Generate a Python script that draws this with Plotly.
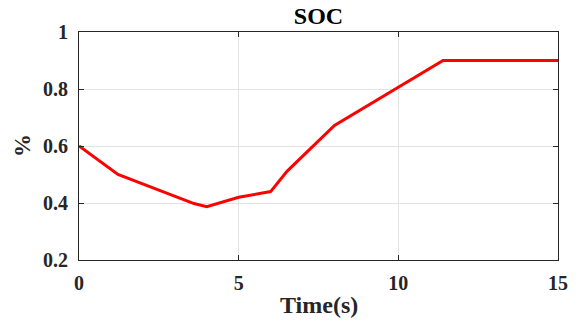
import plotly.graph_objects as go

time_s = [0, 1.22, 3.6, 4.0, 5.0, 6.0, 6.52, 8.0, 11.4, 15]
soc = [0.6, 0.5, 0.398, 0.387, 0.42, 0.44, 0.512, 0.672, 0.9, 0.9]

x_ticks = [0, 5, 10, 15]
y_ticks = [0.2, 0.4, 0.6, 0.8, 1]
y_tick_labels = ["0.2", "0.4", "0.6", "0.8", "1"]

font_family = "Liberation Serif"
axis_color = "#262626"

fig = go.Figure()
fig.add_trace(go.Scatter(x=time_s, y=soc, mode="lines",
                         line=dict(color="#ff0000", width=3), showlegend=False))

fig.update_layout(
    width=580, height=322,
    margin=dict(l=79, r=20, t=32, b=62),
    paper_bgcolor="white", plot_bgcolor="white",
    font=dict(family=font_family, size=20, color=axis_color),
    title=dict(text="<b>SOC</b>", x=0.5, xref="paper", xanchor="center",
               y=1 - 15.5 / 322, yref="container", yanchor="middle",
               font=dict(family=font_family, size=24, color="#000000")),
    annotations=[
        dict(text="<b>Time(s)</b>", xref="paper", yref="paper", x=0.5, y=0,
             xanchor="center", yanchor="middle", yshift=-45, showarrow=False,
             font=dict(family=font_family, size=24, color=axis_color)),
        dict(text="<b>%</b>", xref="paper", yref="paper", x=0, y=0.5,
             xanchor="center", yanchor="middle", xshift=-57, textangle=-90,
             showarrow=False,
             font=dict(family=font_family, size=23, color=axis_color)),
    ],
)
fig.update_xaxes(
    range=[0, 15], tickvals=x_ticks, ticktext=[f"<b>{v}</b>" for v in x_ticks],
    showgrid=True, gridcolor="#e3e3e3", gridwidth=1,
    showline=True, linecolor=axis_color, linewidth=1, mirror="ticks",
    ticks="inside", ticklen=5, tickcolor=axis_color,
    zeroline=False, ticklabelstandoff=5,
)
fig.update_yaxes(
    range=[0.2, 1], tickvals=y_ticks, ticktext=[f"<b>{t}</b>" for t in y_tick_labels],
    showgrid=True, gridcolor="#e3e3e3", gridwidth=1,
    showline=True, linecolor=axis_color, linewidth=1, mirror="ticks",
    ticks="inside", ticklen=5, tickcolor=axis_color,
    zeroline=False, ticklabelstandoff=6,
)

fig.write_html("out.html", config={"displayModeBar": False},
               post_script="document.body.style.margin='0px';")
